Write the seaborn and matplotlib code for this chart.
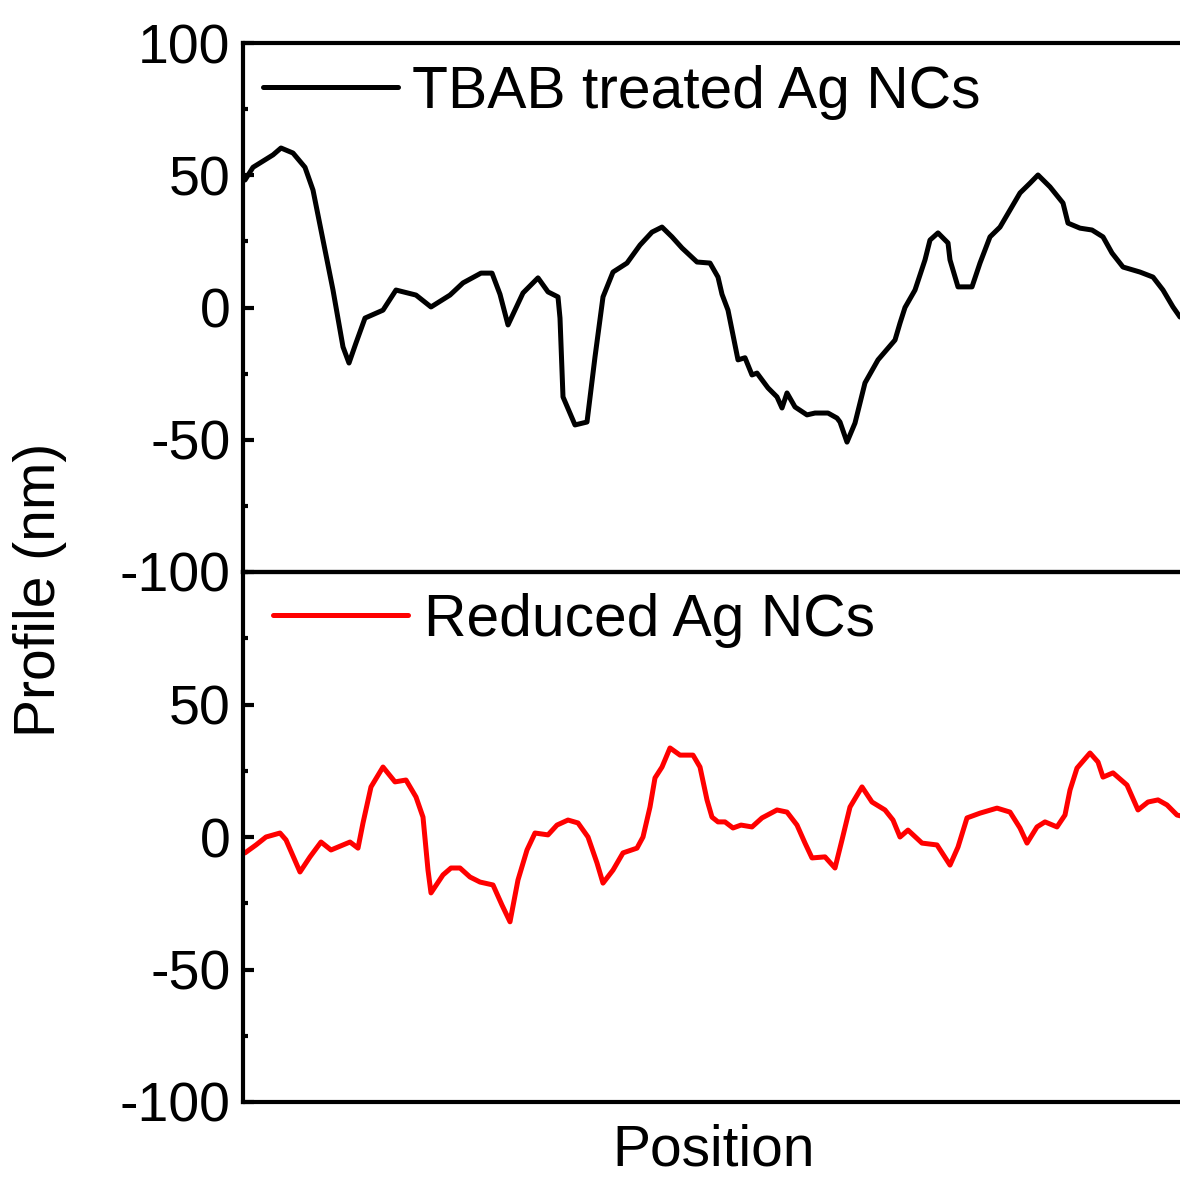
import matplotlib
matplotlib.use("Agg")
import matplotlib.pyplot as plt
import seaborn as sns
from matplotlib.ticker import MultipleLocator

# ---- data (position in arbitrary units, profile in nm) ----
tbab_x = [2, 10, 30, 38, 50, 62, 70, 80, 90, 100, 106, 113, 122, 140, 153, 173, 188,
          207, 220, 238, 249, 257, 265, 280, 295, 305, 315, 317, 320, 332, 344, 352,
          360, 370, 384, 397, 409, 419, 429, 439, 454, 467, 475, 479, 485, 495, 502,
          509, 514, 525, 534, 539, 544, 552, 564, 572, 585, 594, 597, 604, 612, 622,
          635, 652, 657, 662, 672, 682, 687, 695, 705, 707, 715, 729, 737, 747, 757,
          777, 787, 795, 807, 820, 825, 837, 849, 860, 869, 880, 897, 910, 920, 930, 937]
tbab_y = [48.2, 53.0, 57.7, 60.3, 58.4, 53.0, 44.4, 25.5, 6.6, -14.9, -21.0, -13.4,
          -4.0, -1.0, 6.6, 4.7, 0.2, 4.7, 9.3, 13.0, 13.0, 5.0, -6.6, 5.5, 11.2, 5.9,
          4.0, -4.0, -33.8, -44.4, -43.3, -18.7, 4.0, 13.4, 16.8, 23.6, 28.5, 30.4,
          26.7, 22.5, 17.2, 16.8, 11.5, 5.0, -1.0, -19.8, -19.0, -25.5, -24.8, -30.4,
          -33.8, -38.0, -32.3, -37.6, -40.6, -39.9, -39.9, -41.8, -43.3, -50.9, -43.7,
          -28.5, -19.8, -12.3, -5.9, 0.0, 6.6, 18.0, 25.5, 28.2, 24.4, 18.0, 7.8, 7.8,
          16.8, 26.7, 30.4, 43.3, 47.0, 50.1, 45.6, 39.5, 31.9, 30.0, 29.3, 26.7, 20.6,
          15.3, 13.4, 11.5, 6.6, 0.2, -3.6]

reduced_x = [2, 13, 23, 37, 43, 57, 67, 78, 88, 100, 107, 115, 120, 128, 140, 152, 163,
             173, 180, 185, 188, 200, 208, 217, 227, 237, 250, 259, 267, 275, 284, 292,
             305, 314, 325, 335, 345, 354, 360, 370, 380, 394, 400, 407, 412, 419, 427,
             437, 450, 457, 464, 469, 475, 482, 490, 498, 509, 519, 534, 544, 554, 562,
             569, 582, 592, 599, 607, 619, 629, 642, 650, 657, 665, 679, 694, 707, 715,
             724, 737, 754, 767, 777, 784, 794, 802, 814, 822, 827, 834, 847, 855, 860,
             870, 884, 895, 905, 915, 924, 934, 937]
reduced_y = [-6.0, -3.0, 0.0, 1.5, -1.1, -13.2, -7.5, -1.9, -4.9, -3.0, -1.9, -4.2, 5.3,
             18.9, 26.4, 20.8, 21.5, 15.1, 7.5, -12.5, -21.1, -14.3, -11.7, -11.7, -15.1,
             -17.0, -18.1, -25.7, -32.0, -16.2, -4.9, 1.5, 0.8, 4.5, 6.4, 5.3, 0.0, -9.8,
             -17.4, -12.5, -6.0, -4.2, 0.0, 11.3, 22.3, 26.4, 33.6, 30.9, 30.9, 26.4,
             14.0, 7.5, 5.7, 5.7, 3.4, 4.5, 3.8, 7.2, 10.2, 9.4, 4.5, -2.3, -7.9, -7.5,
             -11.7, -1.1, 11.3, 18.9, 13.2, 10.2, 6.4, 0.0, 2.6, -2.3, -3.0, -10.6, -3.8,
             7.2, 9.0, 10.9, 9.4, 3.4, -2.3, 3.8, 5.7, 3.8, 8.3, 17.7, 26.0, 31.7, 28.3,
             22.6, 24.2, 19.6, 10.2, 13.2, 14.0, 12.1, 8.3, 8.0]

labels = ["TBAB treated Ag NCs", "Reduced Ag NCs"]
colors = ["black", "red"]
yticks = [-100, -50, 0, 50, 100]

sns.set_style("ticks")
plt.rcParams["font.family"] = ["Liberation Sans", "DejaVu Sans"]
for k in ("text.color", "axes.labelcolor", "xtick.color", "ytick.color", "axes.edgecolor"):
    plt.rcParams[k] = "black"

fig = plt.figure(figsize=(11.8, 11.82), dpi=100)
W, H = 1180, 1182
left = 243 / W
width = 1 - left
ax_top = fig.add_axes([left, (H - 572) / H, width, (572 - 43) / H])
ax_bot = fig.add_axes([left, (H - 1102) / H, width, (1102 - 572) / H])

lw = 3.6
sns.lineplot(x=tbab_x, y=tbab_y, ax=ax_top, color=colors[0], linewidth=lw,
             label=labels[0], sort=False)
sns.lineplot(x=reduced_x, y=reduced_y, ax=ax_bot, color=colors[1], linewidth=lw,
             label=labels[1], sort=False)

spine_lw = 3.0
for ax in (ax_top, ax_bot):
    ax.set_xlim(0, 937)
    ax.set_ylim(-100, 100)
    ax.yaxis.set_minor_locator(MultipleLocator(25))
    ax.set_xticks([])
    ax.tick_params(axis="y", which="major", direction="in", length=8, width=spine_lw,
                   labelsize=40, pad=9, color="black", labelcolor="black")
    ax.tick_params(axis="y", which="minor", direction="in", length=3.5, width=spine_lw,
                   color="black")
    ax.spines["right"].set_visible(False)
    for s in ("left", "top", "bottom"):
        ax.spines[s].set_linewidth(spine_lw)
        ax.spines[s].set_color("black")
    ax.set_xlabel("")
    ax.set_ylabel("")
    ax.patch.set_alpha(0)

ax_top.set_yticks(yticks)
ax_top.set_yticklabels([str(v) for v in yticks])
ax_bot.set_yticks(yticks[:-1])
ax_bot.set_yticklabels([str(v) for v in yticks[:-1]])

ax_top.legend(loc="center left", bbox_to_anchor=(20 / 937, (572 - 92) / 529),
              frameon=False, fontsize=42.3, handlelength=2.3, handletextpad=0.24,
              borderpad=0, borderaxespad=0)
ax_bot.legend(loc="center left", bbox_to_anchor=(30 / 937, (1102 - 620) / 530),
              frameon=False, fontsize=42.3, handlelength=2.3, handletextpad=0.27,
              borderpad=0, borderaxespad=0)
for lg in (ax_top.get_legend(), ax_bot.get_legend()):
    for ln in lg.get_lines():
        ln.set_linewidth(lw)
    for t in lg.get_texts():
        t.set_color("black")

fig.text(40 / W, 1 - 590 / H, "Profile (nm)", rotation=90, ha="center", va="center",
         fontsize=41, color="black")
fig.text(714 / W, 1 - 1150 / H, "Position", ha="center", va="center", fontsize=41,
         color="black")

fig.savefig("out.png", dpi=100, facecolor="white")
